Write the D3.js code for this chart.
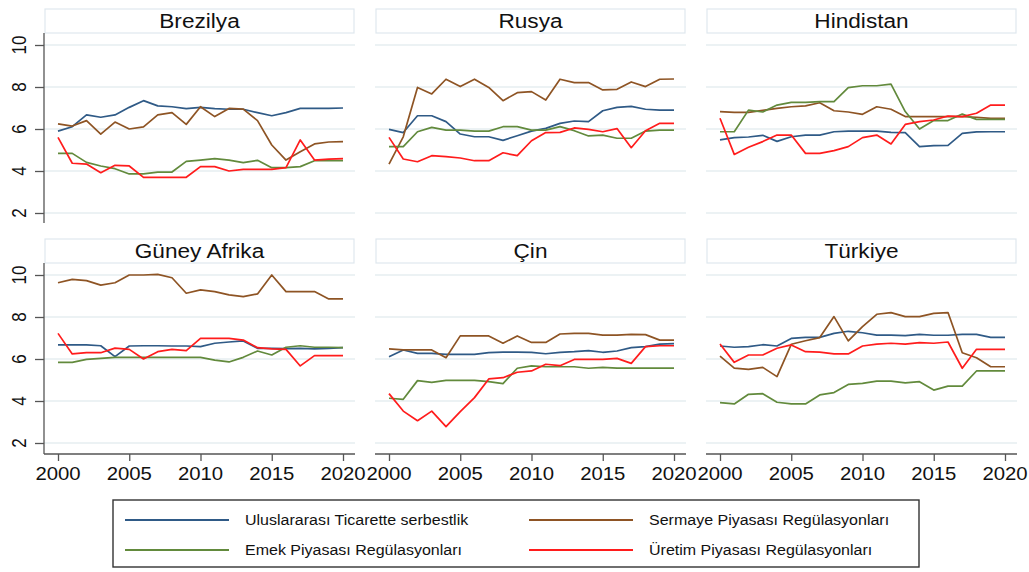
<!DOCTYPE html>
<html><head><meta charset="utf-8">
<script src="https://cdn.jsdelivr.net/npm/d3@7"></script>
<style>body{margin:0;background:#fff}svg{display:block}text{font-family:"Liberation Sans",Arial,sans-serif;fill:#111}</style>
</head><body><svg id="c" width="1029" height="572"></svg>
<script>
const years = d3.range(2000, 2021);
const countries = ["Brezilya","Rusya","Hindistan","Güney Afrika","Çin","Türkiye"];
const seriesNames = ["Uluslararası Ticarette serbestlik","Sermaye Piyasası Regülasyonları","Emek Piyasası Regülasyonları","Üretim Piyasası Regülasyonları"];
const seriesColors = ["#2f5a86","#8e5424","#628a3c","#ff1c1c"];
const yTicks = [2,4,6,8,10];
const xTicks = [2000,2005,2010,2015,2020];

// Brezilya
const brezilyaTicaret = [5.9,6.11,6.67,6.56,6.67,7.03,7.35,7.1,7.06,6.97,7.03,6.97,6.94,6.94,6.78,6.63,6.78,6.98,6.98,6.98,7.0];
const brezilyaSermaye = [6.24,6.14,6.4,5.76,6.33,6.0,6.1,6.67,6.78,6.22,7.06,6.59,6.98,6.95,6.4,5.24,4.52,4.92,5.29,5.38,5.4];
const brezilyaEmek = [4.84,4.84,4.41,4.24,4.11,3.86,3.86,3.95,3.95,4.46,4.52,4.59,4.52,4.4,4.51,4.16,4.16,4.21,4.49,4.49,4.49];
const brezilyaUretim = [5.6,4.37,4.33,3.92,4.27,4.24,3.7,3.7,3.7,3.7,4.21,4.21,4.0,4.08,4.08,4.08,4.16,5.48,4.52,4.57,4.59];
// Rusya
const rusyaTicaret = [5.98,5.83,6.63,6.63,6.35,5.76,5.63,5.63,5.46,5.68,5.9,6.03,6.27,6.38,6.35,6.87,7.03,7.08,6.94,6.9,6.9];
const rusyaSermaye = [4.33,5.63,7.98,7.67,8.37,8.02,8.37,7.98,7.35,7.73,7.78,7.38,8.37,8.21,8.21,7.86,7.89,8.24,8.02,8.37,8.38];
const rusyaEmek = [5.16,5.16,5.87,6.08,5.95,5.95,5.9,5.9,6.11,6.11,5.95,5.95,6.11,5.92,5.67,5.71,5.56,5.56,5.9,5.95,5.95];
const rusyaUretim = [5.6,4.57,4.44,4.73,4.68,4.62,4.49,4.49,4.87,4.73,5.44,5.83,5.84,6.05,5.98,5.87,6.02,5.11,5.92,6.27,6.27];
// Hindistan
const hindistanTicaret = [5.48,5.59,5.62,5.7,5.41,5.63,5.71,5.71,5.87,5.9,5.9,5.9,5.84,5.83,5.16,5.21,5.22,5.79,5.86,5.87,5.87];
const hindistanSermaye = [6.83,6.79,6.79,6.89,6.98,7.06,7.1,7.25,6.87,6.81,6.7,7.06,6.94,6.59,6.59,6.59,6.59,6.59,6.56,6.51,6.51];
const hindistanEmek = [5.87,5.87,6.9,6.81,7.14,7.27,7.27,7.3,7.3,7.97,8.06,8.06,8.14,6.83,6.0,6.4,6.4,6.71,6.46,6.46,6.46];
const hindistanUretim = [6.51,4.79,5.13,5.4,5.71,5.71,4.84,4.84,4.97,5.16,5.59,5.71,5.29,6.22,6.35,6.43,6.62,6.59,6.75,7.14,7.14];
// Güney Afrika
const guneyAfrikaTicaret = [6.67,6.67,6.67,6.63,6.11,6.62,6.63,6.63,6.62,6.62,6.59,6.75,6.81,6.86,6.51,6.51,6.49,6.51,6.48,6.51,6.54];
const guneyAfrikaSermaye = [9.63,9.79,9.73,9.52,9.63,10.0,10.0,10.03,9.87,9.13,9.29,9.21,9.05,8.97,9.1,10.0,9.21,9.21,9.21,8.86,8.86];
const guneyAfrikaEmek = [5.84,5.84,5.98,6.03,6.08,6.08,6.08,6.08,6.08,6.08,6.08,5.95,5.86,6.08,6.38,6.19,6.56,6.63,6.56,6.56,6.54];
const guneyAfrikaUretim = [7.22,6.24,6.3,6.3,6.52,6.46,6.0,6.35,6.46,6.4,6.98,6.98,6.98,6.9,6.54,6.48,6.46,5.67,6.16,6.16,6.16];
// Çin
const cinTicaret = [6.11,6.43,6.27,6.27,6.22,6.22,6.22,6.3,6.33,6.33,6.32,6.25,6.32,6.35,6.4,6.32,6.38,6.54,6.59,6.71,6.73];
const cinSermaye = [6.48,6.43,6.43,6.43,6.06,7.1,7.1,7.1,6.75,7.1,6.79,6.79,7.19,7.22,7.22,7.14,7.14,7.17,7.16,6.9,6.9];
const cinEmek = [4.13,4.08,4.97,4.89,4.98,4.98,4.98,4.92,4.83,5.56,5.67,5.63,5.63,5.63,5.56,5.6,5.57,5.57,5.57,5.57,5.57];
const cinUretim = [4.35,3.52,3.06,3.52,2.78,3.49,4.16,5.05,5.11,5.37,5.43,5.75,5.68,5.98,5.98,5.98,6.03,5.79,6.59,6.63,6.63];
// Türkiye
const turkiyeTicaret = [6.62,6.56,6.59,6.68,6.62,6.98,7.03,7.03,7.22,7.32,7.25,7.14,7.14,7.11,7.17,7.13,7.13,7.17,7.17,7.03,7.03];
const turkiyeSermaye = [6.14,5.57,5.51,5.6,5.16,6.7,6.87,7.02,8.02,6.86,7.54,8.13,8.21,8.02,8.02,8.17,8.21,6.3,6.06,5.63,5.63];
const turkiyeEmek = [3.92,3.86,4.32,4.35,3.94,3.86,3.86,4.29,4.4,4.79,4.84,4.95,4.95,4.86,4.92,4.52,4.71,4.71,5.43,5.43,5.43];
const turkiyeUretim = [6.71,5.84,6.19,6.19,6.51,6.67,6.35,6.33,6.24,6.24,6.62,6.71,6.75,6.71,6.78,6.75,6.81,5.56,6.46,6.46,6.46];

const panelData = [
  [brezilyaTicaret, brezilyaSermaye, brezilyaEmek, brezilyaUretim],
  [rusyaTicaret, rusyaSermaye, rusyaEmek, rusyaUretim],
  [hindistanTicaret, hindistanSermaye, hindistanEmek, hindistanUretim],
  [guneyAfrikaTicaret, guneyAfrikaSermaye, guneyAfrikaEmek, guneyAfrikaUretim],
  [cinTicaret, cinSermaye, cinEmek, cinUretim],
  [turkiyeTicaret, turkiyeSermaye, turkiyeEmek, turkiyeUretim]
];

const svg = d3.select("#c");
const SX = 1.16;
const panelLeft = [44, 375, 706];
const panelW = 311;
const rowTop = [33, 263];     // top of plot region
const plotH = 190;

countries.forEach((name, i) => {
  const col = i % 3, row = Math.floor(i / 3);
  const L = panelLeft[col], T = rowTop[row];
  const x = d3.scaleLinear().domain([2000, 2020]).range([L + 14, L + 299]);
  const y = d3.scaleLinear().domain([2, 10]).range([T + 180, T + 12]);
  const g = svg.append("g");

  // title box
  g.append("rect").attr("x", L + 1).attr("y", T - 24).attr("width", panelW - 2).attr("height", 24)
    .attr("fill", "#fff").attr("stroke", "#dfe8ee").attr("stroke-width", 1.2);
  g.append("text").attr("transform", `translate(${L + panelW / 2},${T - 5}) scale(${SX},1)`)
    .attr("text-anchor", "middle").attr("font-size", 19.5).attr("fill", "#000").text(name);

  // gridlines
  g.append("g").selectAll("line").data(yTicks).join("line")
    .attr("x1", L).attr("x2", L + panelW).attr("y1", d => y(d)).attr("y2", d => y(d))
    .attr("stroke", "#e6eef1").attr("stroke-width", 1.5);

  // lines
  const line = d3.line().x((d, k) => x(years[k])).y(d => y(d));
  panelData[i].forEach((vals, s) => {
    g.append("path").datum(vals).attr("d", line).attr("fill", "none")
      .attr("stroke", seriesColors[s]).attr("stroke-width", 1.7).attr("stroke-linejoin", "round");
  });

  // y axis on left column
  if (col === 0) {
    const ax = g.append("g").attr("transform", `translate(${L},0)`)
      .call(d3.axisLeft(y).tickValues(yTicks).tickSize(9).tickFormat(""));
    ax.select(".domain").attr("d", `M0,${T}V${T + plotH + (row === 1 ? 1 : 0)}`).attr("stroke", "#555").attr("stroke-width", 1.3);
    ax.selectAll(".tick line").attr("stroke", "#555").attr("stroke-width", 1.3);
    g.append("g").selectAll("text").data(yTicks).join("text")
      .attr("transform", d => `translate(${L - 18},${y(d)}) scale(${SX},1) rotate(-90)`)
      .attr("text-anchor", "middle").attr("font-size", 17).text(d => d);
  }
  // x axis on bottom row
  if (row === 1) {
    const ax = g.append("g").attr("transform", `translate(0,${T + plotH + 1})`)
      .call(d3.axisBottom(x).tickValues(xTicks).tickSize(7).tickFormat(""));
    ax.select(".domain").attr("d", `M${L},0H${L + panelW}`).attr("stroke", "#555").attr("stroke-width", 1.3);
    ax.selectAll(".tick line").attr("stroke", "#555").attr("stroke-width", 1.3);
    g.append("g").selectAll("text").data(xTicks).join("text")
      .attr("transform", d => `translate(${x(d)},${T + plotH + 27}) scale(1.13,1)`)
      .attr("text-anchor", "middle").attr("font-size", 18).text(d => d);
  }
});

// legend
const lg = svg.append("g");
lg.append("rect").attr("x", 113).attr("y", 500).attr("width", 806).attr("height", 67)
  .attr("fill", "#fff").attr("stroke", "#333").attr("stroke-width", 1.4);
const legendPos = [[125, 520], [529, 520], [125, 550], [529, 550]];
const legendOrder = [0, 1, 2, 3];
legendOrder.forEach((s, k) => {
  const [lx, ly] = legendPos[k];
  lg.append("line").attr("x1", lx).attr("x2", lx + 104).attr("y1", ly).attr("y2", ly)
    .attr("stroke", seriesColors[s]).attr("stroke-width", 2);
  lg.append("text").attr("transform", `translate(${lx + 120},${ly + 5}) scale(${SX},1)`)
    .attr("font-size", 13.8).text(seriesNames[s]);
});
</script></body></html>
